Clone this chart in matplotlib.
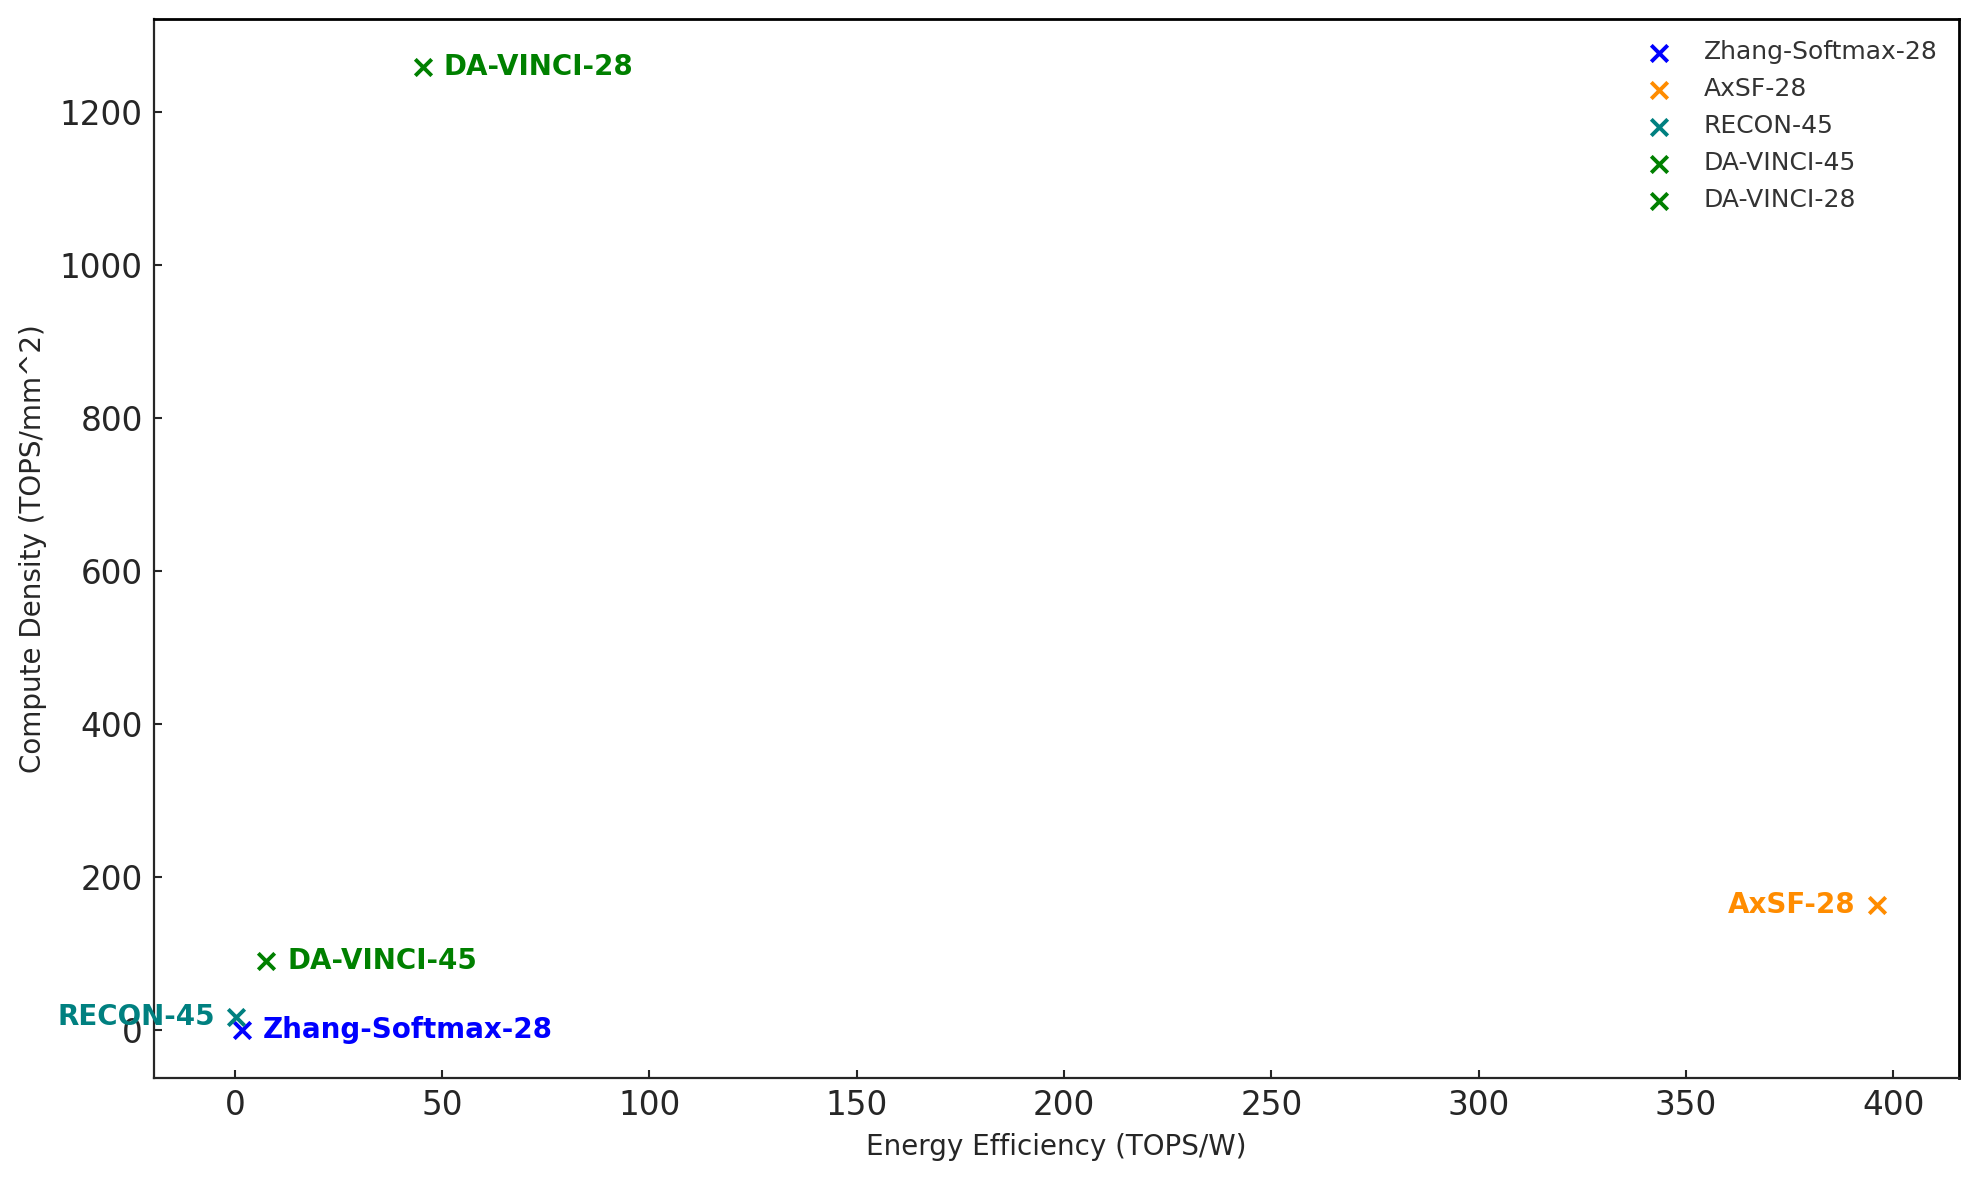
import matplotlib
matplotlib.use("Agg")
import matplotlib.pyplot as plt

names = ["Zhang-Softmax-28", "AxSF-28", "RECON-45", "DA-VINCI-45", "DA-VINCI-28"]
efficiency = [1.8, 396.0, 0.3, 7.6, 45.3]
density = [1.0, 164.0, 18.0, 91.0, 1259.0]
colors = ["#0000ff", "#ff8c00", "#008080", "#008000", "#008000"]
label_side = ["right", "left", "left", "right", "right"]

fig = plt.figure(figsize=(19.79, 11.8), dpi=100)
ax = fig.add_axes([0.0778, 0.0866, 0.9120, 0.8974])

for n, x, y, c, side in zip(names, efficiency, density, colors, label_side):
    ax.scatter(x, y, marker="x", s=140, linewidths=2.8, color=c, label=n, zorder=3)
    if side == "right":
        ax.annotate(n, (x, y), xytext=(21, 0), textcoords="offset pixels",
                    ha="left", va="center", fontsize=20, fontweight="bold", color=c)
    else:
        ax.annotate(n, (x, y), xytext=(-21, 0), textcoords="offset pixels",
                    ha="right", va="center", fontsize=20, fontweight="bold", color=c)

ax.set_xlabel("Energy Efficiency (TOPS/W)", fontsize=20, color="#262626", labelpad=8)
ax.set_ylabel("Compute Density (TOPS/mm^2)", fontsize=20, color="#262626", labelpad=9)
ax.tick_params(axis="both", direction="in", length=6, width=1.5, labelsize=23.5,
               labelcolor="#262626", color="#262626", pad=8)
ax.set_xticks([0, 50, 100, 150, 200, 250, 300, 350, 400])
ax.set_yticks([0, 200, 400, 600, 800, 1000, 1200])

for s in ["left", "bottom"]:
    ax.spines[s].set_color("#262626")
    ax.spines[s].set_linewidth(1.6)
for s in ["top", "right"]:
    ax.spines[s].set_color("black")
    ax.spines[s].set_linewidth(2.0)

leg = ax.legend(loc="upper right", frameon=False, fontsize=18, labelcolor="#333333",
                handletextpad=0.78, borderaxespad=0.45, labelspacing=0.52)

fig.savefig("out.png", dpi=100)
